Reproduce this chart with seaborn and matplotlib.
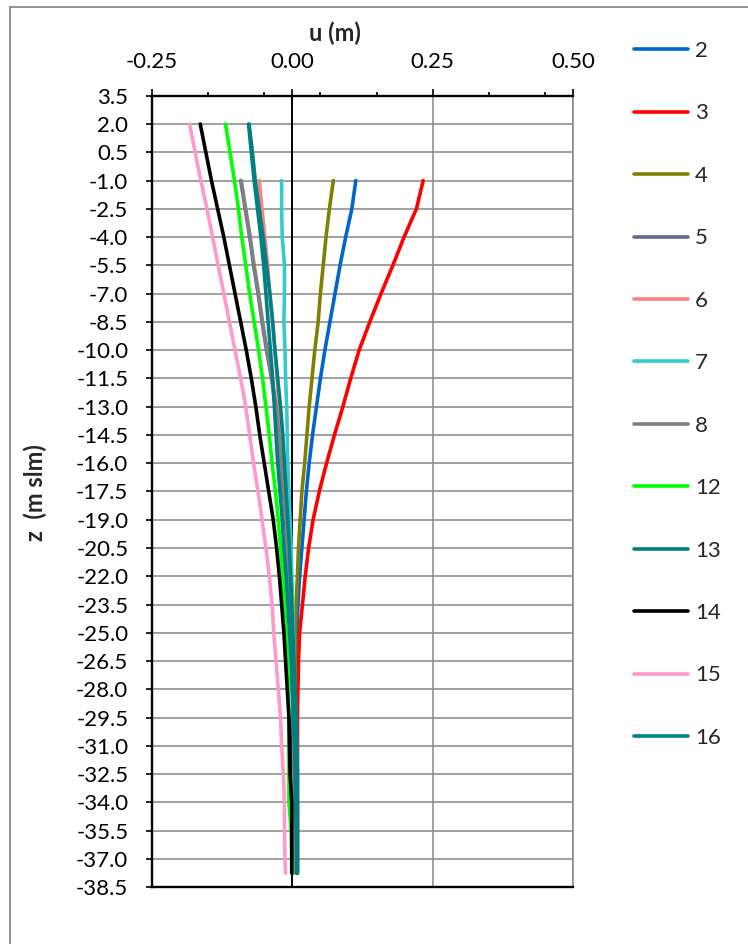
import matplotlib
matplotlib.use("Agg")
import matplotlib.pyplot as plt
from matplotlib.lines import Line2D
from matplotlib.patches import Rectangle
from matplotlib.ticker import FixedLocator, FormatStrFormatter
import seaborn as sns
import pandas as pd

# depth levels (m slm)
z_top = [2.0, 0.5, -1.0, -2.5, -4.0, -5.5, -7.0, -8.5, -10.0, -11.5, -13.0, -14.5,
         -16.0, -17.5, -19.0, -20.5, -22.0, -23.5, -25.0, -26.5, -28.0, -29.5,
         -31.0, -32.5, -34.0, -35.5, -37.0, -37.75]
z_mid = z_top[2:]

# horizontal displacement u (m) per inclinometer
u_2 = [0.113, 0.106, 0.095, 0.085, 0.076, 0.067, 0.058, 0.050, 0.043, 0.036, 0.030,
       0.025, 0.021, 0.017, 0.013, 0.010, 0.008, 0.008, 0.008, 0.009, 0.009, 0.009,
       0.009, 0.009, 0.009, 0.009]
u_3 = [0.233, 0.221, 0.199, 0.179, 0.158, 0.138, 0.119, 0.104, 0.090, 0.075, 0.061,
       0.048, 0.037, 0.029, 0.023, 0.018, 0.013, 0.011, 0.010, 0.009, 0.009, 0.009,
       0.009, 0.009, 0.009, 0.009]
u_4 = [0.073, 0.066, 0.060, 0.055, 0.050, 0.046, 0.040, 0.035, 0.030, 0.026, 0.022,
       0.017, 0.014, 0.011, 0.009, 0.007, 0.005, 0.005, 0.005, 0.006, 0.008, 0.008,
       0.009, 0.009, 0.009, 0.009]
u_5 = [-0.092, -0.084, -0.076, -0.069, -0.061, -0.054, -0.046, -0.037, -0.030, -0.025,
       -0.021, -0.016, -0.012, -0.009, -0.007, -0.005, -0.003, -0.001, 0.000, 0.001,
       0.002, 0.002, 0.002, 0.002, 0.002, 0.002]
u_6 = [-0.059, -0.054, -0.049, -0.044, -0.040, -0.035, -0.031, -0.027, -0.024, -0.020,
       -0.017, -0.013, -0.010, -0.008, -0.005, -0.003, -0.001, 0.001, 0.002, 0.003,
       0.003, 0.003, 0.003, 0.003, 0.003, 0.003]
u_7 = [-0.019, -0.019, -0.018, -0.014, -0.014, -0.015, -0.013, -0.012, -0.010, -0.009,
       -0.008, -0.006, -0.004, -0.002, -0.001, 0.001, 0.002, 0.003, 0.004, 0.005,
       0.005, 0.005, 0.005, 0.005, 0.005, 0.005]
u_8 = [-0.091, -0.083, -0.075, -0.068, -0.060, -0.053, -0.045, -0.036, -0.029, -0.024,
       -0.020, -0.015, -0.011, -0.008, -0.006, -0.004, -0.002, 0.000, 0.001, 0.002,
       0.003, 0.003, 0.003, 0.003, 0.003, 0.003]
u_12 = [-0.119, -0.111, -0.103, -0.096, -0.090, -0.083, -0.076, -0.068, -0.060, -0.053,
        -0.047, -0.041, -0.036, -0.030, -0.025, -0.021, -0.017, -0.014, -0.011, -0.008,
        -0.007, -0.006, -0.006, -0.006, -0.006, -0.002, -0.001, -0.001]
u_13 = [-0.078, -0.073, -0.068, -0.062, -0.056, -0.051, -0.047, -0.043, -0.039, -0.035,
        -0.032, -0.029, -0.026, -0.022, -0.018, -0.015, -0.011, -0.008, -0.005, -0.002,
        0.000, 0.002, 0.004, 0.005, 0.006, 0.007, 0.008, 0.008]
u_14 = [-0.164, -0.154, -0.144, -0.133, -0.122, -0.112, -0.102, -0.092, -0.082, -0.073,
        -0.065, -0.058, -0.050, -0.042, -0.034, -0.028, -0.023, -0.019, -0.015, -0.012,
        -0.009, -0.006, -0.005, -0.004, -0.001, -0.001, -0.001, -0.001]
u_15 = [-0.183, -0.173, -0.163, -0.152, -0.142, -0.132, -0.122, -0.112, -0.102, -0.092,
        -0.083, -0.076, -0.069, -0.061, -0.054, -0.047, -0.041, -0.036, -0.033, -0.029,
        -0.025, -0.021, -0.019, -0.016, -0.014, -0.014, -0.013, -0.012]
u_16 = [-0.077, -0.071, -0.066, -0.059, -0.052, -0.046, -0.040, -0.035, -0.031, -0.026,
        -0.021, -0.017, -0.014, -0.011, -0.008, -0.005, -0.003, -0.001, 0.001, 0.003,
        0.005, 0.007, 0.008, 0.009, 0.009, 0.009, 0.009, 0.009]

series_names = ["2", "3", "4", "5", "6", "7", "8", "12", "13", "14", "15", "16"]
series_colors = ["#0066CC", "#FF0000", "#808000", "#666699", "#FF8080", "#33CCCC",
                 "#808080", "#00FF00", "#008080", "#000000", "#FF99CC", "#008080"]

x_ticks = [-0.25, 0.00, 0.25, 0.50]
x_minor = [-0.15, -0.05, 0.05, 0.15, 0.35, 0.45]
y_ticks = [3.5 - 1.5 * i for i in range(29)]

profiles = {
    "2": (z_mid, u_2), "3": (z_mid, u_3), "4": (z_mid, u_4), "5": (z_mid, u_5),
    "6": (z_mid, u_6), "7": (z_mid, u_7), "8": (z_mid, u_8), "12": (z_top, u_12),
    "13": (z_top, u_13), "14": (z_top, u_14), "15": (z_top, u_15), "16": (z_top, u_16),
}
rows = []
for name in series_names:
    zz, uu = profiles[name]
    for zi, ui in zip(zz, uu):
        rows.append({"serie": name, "z": zi, "u": ui})
df = pd.DataFrame(rows)

sns.set_theme(style="white")
plt.rcParams["font.family"] = ["Lato", "DejaVu Sans"]
plt.rcParams["axes.unicode_minus"] = False

FS = 16

fig = plt.figure(figsize=(7.48, 9.44), dpi=100)
fig.patch.set_facecolor("white")
ax = fig.add_axes([0.2031, 0.0601, 0.5631, 0.8385])

# chart-area border
fig.patches.append(Rectangle((10 / 748, -0.2), 2.0, 1.2 - 7 / 944, transform=fig.transFigure,
                             fill=False, edgecolor="#8a8a8a", linewidth=1.3, zorder=0))

palette = dict(zip(series_names, series_colors))
sns.lineplot(data=df, x="u", y="z", hue="serie", hue_order=series_names, palette=palette,
             units="serie", estimator=None, sort=False, orient="y", linewidth=2.6,
             legend=False, ax=ax, zorder=3)

ax.set_xlim(-0.25, 0.5)
ax.set_ylim(-38.5, 3.5)

# grid
for yv in y_ticks[1:-1]:
    ax.axhline(yv, color="#868686", linewidth=1.1, zorder=1)
for xv in [0.25, 0.5]:
    ax.axvline(xv, color="#868686", linewidth=1.1, zorder=1)
ax.axvline(0.0, color="black", linewidth=1.4, zorder=2)

for side in ["left", "top", "bottom"]:
    ax.spines[side].set_color("black")
    ax.spines[side].set_linewidth(1.7)
    ax.spines[side].set_zorder(4)
ax.spines["right"].set_color("#868686")
ax.spines["right"].set_linewidth(1.1)

ax.xaxis.tick_top()
ax.xaxis.set_label_position("top")
ax.xaxis.set_major_locator(FixedLocator(x_ticks))
ax.xaxis.set_minor_locator(FixedLocator(x_minor))
ax.xaxis.set_major_formatter(FormatStrFormatter("%.2f"))
ax.yaxis.set_major_locator(FixedLocator(y_ticks))
ax.yaxis.set_major_formatter(FormatStrFormatter("%.1f"))

ax.tick_params(axis="x", which="major", direction="out", length=5, width=1.2,
               colors="black", labelsize=FS, pad=12, top=True, bottom=False)
ax.tick_params(axis="x", which="minor", direction="out", length=3, width=1.2,
               colors="black", top=True, bottom=False)
ax.tick_params(axis="y", which="major", direction="out", length=4, width=1.2,
               colors="black", labelsize=FS, pad=13, left=True, right=False)
ax.set_xlabel("")
ax.set_ylabel("")

fig.text(335 / 748, 1 - 33 / 944, "u (m)", ha="center", va="center",
         fontsize=17, fontweight="bold")
fig.text(35 / 748, 1 - 493 / 944, "z  (m slm)", ha="center", va="center",
         rotation=90, fontsize=17, fontweight="bold")

handles = [Line2D([0], [0], color=c, linewidth=2.6) for c in series_colors]
fig.legend(handles, series_names, loc="upper left", bbox_to_anchor=(634 / 748, 1 - 41 / 944),
           frameon=False, fontsize=FS, handlelength=2.45, handletextpad=0.3,
           labelspacing=1.91, borderpad=0, borderaxespad=0)

fig.savefig("out.png", dpi=100, facecolor="white")
